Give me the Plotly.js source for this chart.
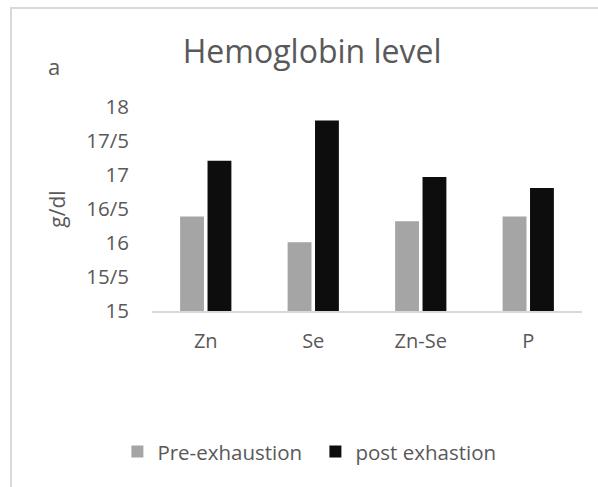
<!DOCTYPE html>
<html>
<head>
<meta charset="utf-8">
<script src="https://cdn.plot.ly/plotly-3.0.1.min.js"></script>
<style>
  html, body { margin: 0; padding: 0; background: #fff; }
  #wrap { position: relative; width: 598px; height: 487px; overflow: hidden; }
  #chart { width: 598px; height: 487px; }
  /* chart-area frame: only the left and top edges fall inside the view */
  #frame { position: absolute; left: 10px; top: 7px; width: 700px; height: 600px;
           border-left: 2px solid #D9D9D9; border-top: 2px solid #D9D9D9; pointer-events: none; }
</style>
</head>
<body>
<div id="wrap">
  <div id="chart"></div>
  <div id="frame"></div>
</div>
<script>
// Hemoglobin level (g/dl) per supplement group
const groups = ["Zn", "Se", "Zn-Se", "P"];
const preExhaustion = [16.39, 16.01, 16.32, 16.39];
const postExhaustion = [17.21, 17.80, 16.97, 16.81];

// y tick labels use "/" as the decimal separator
const yTickVals = [15, 15.5, 16, 16.5, 17, 17.5, 18];
const yTickText = ["15", "15/5", "16", "16/5", "17", "17/5", "18"];

const FONT = "Open Sans, sans-serif";
const TEXT = "#595959";

const traces = [
  {
    type: "bar", name: "Pre-exhaustion", x: groups, y: preExhaustion,
    marker: { color: "#A5A5A5" }, hoverinfo: "x+y"
  },
  {
    type: "bar", name: "post exhastion", x: groups, y: postExhaustion,
    marker: { color: "#0D0D0D" }, hoverinfo: "x+y"
  }
];

const layout = {
  width: 598, height: 487,
  margin: { l: 152, r: 16, t: 107, b: 176 },
  paper_bgcolor: "#ffffff", plot_bgcolor: "#ffffff",
  font: { family: FONT, color: TEXT, size: 20 },
  barmode: "group", bargap: 0.49, bargroupgap: 0.13,
  title: {
    text: "Hemoglobin level",
    font: { family: FONT, size: 32, color: TEXT },
    xref: "container", x: 0.522, xanchor: "center",
    yref: "container", y: 0.893, yanchor: "middle"
  },
  xaxis: {
    type: "category",
    showgrid: false, zeroline: false,
    showline: true, linecolor: "#D9D9D9", linewidth: 2,
    ticks: "", ticklabelstandoff: 11,
    tickfont: { family: FONT, size: 20, color: TEXT }
  },
  yaxis: {
    range: [15, 18], fixedrange: true,
    tickmode: "array", tickvals: yTickVals, ticktext: yTickText,
    showgrid: false, zeroline: false, showline: false,
    ticks: "", ticklabelstandoff: 22,
    tickfont: { family: FONT, size: 20.5, color: TEXT },
    title: { text: "g/dl", font: { family: FONT, size: 21, color: TEXT }, standoff: 14 }
  },
  legend: {
    orientation: "h", x: 0.380, xanchor: "center", y: -0.69, yanchor: "middle",
    entrywidth: 153,
    font: { family: FONT, size: 20.5, color: TEXT },
    itemclick: false, itemdoubleclick: false
  },
  annotations: [
    {
      text: "a", showarrow: false,
      xref: "paper", yref: "paper", x: -0.228, y: 1.2,
      xanchor: "center", yanchor: "middle",
      font: { family: FONT, size: 22, color: TEXT }
    }
  ]
};

Plotly.newPlot("chart", traces, layout, { displayModeBar: false, staticPlot: true });
</script>
</body>
</html>
